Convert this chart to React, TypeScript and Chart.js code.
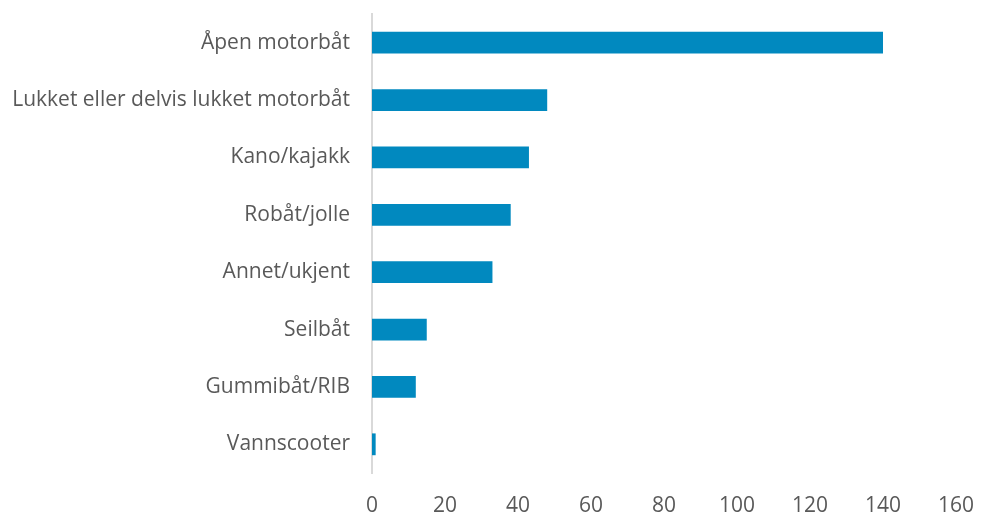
import React, { useEffect, useRef } from "react";
import { Chart, registerables } from "chart.js";

Chart.register(...registerables);

const categories = [
  "Åpen motorbåt",
  "Lukket eller delvis lukket motorbåt",
  "Kano/kajakk",
  "Robåt/jolle",
  "Annet/ukjent",
  "Seilbåt",
  "Gummibåt/RIB",
  "Vannscooter",
];
const values = [140, 48, 43, 38, 33, 15, 12, 1];
const xTicks = [0, 20, 40, 60, 80, 100, 120, 140, 160];

export default function App() {
  const ref = useRef<HTMLCanvasElement>(null);
  useEffect(() => {
    if (!ref.current) return;
    const chart = new Chart(ref.current, {
      type: "bar",
      data: {
        labels: categories,
        datasets: [
          {
            data: values,
            backgroundColor: "#0189BF",
            borderWidth: 0,
            barPercentage: 0.76,
            categoryPercentage: 0.5,
          },
        ],
      },
      options: {
        indexAxis: "y",
        animation: false,
        responsive: false,
        maintainAspectRatio: false,
        layout: { padding: { top: 14, right: 26, left: 0, bottom: 0 } },
        plugins: { legend: { display: false }, tooltip: { enabled: false } },
        scales: {
          x: {
            min: 0,
            max: 160,
            afterBuildTicks: (s: any) => {
              s.ticks = xTicks.map((v) => ({ value: v }));
            },
            afterFit: (s: any) => {
              s.height = 42;
              s.paddingLeft = 0;
              s.paddingRight = 0;
            },
            grid: { display: false, drawTicks: false },
            border: { display: false },
            ticks: {
              color: "#595959",
              font: { family: "Open Sans", size: 21 },
              padding: 20,
            },
          },
          y: {
            afterFit: (s: any) => {
              s.width = 372;
              s.paddingTop = 0;
              s.paddingBottom = 0;
            },
            grid: { display: false, drawTicks: false },
            border: { display: true, color: "#D9D9D9", width: 2 },
            ticks: {
              color: "#595959",
              font: { family: "Open Sans", size: 21 },
              padding: 22,
            },
          },
        },
      },
    });
    return () => chart.destroy();
  }, []);
  return (
    <div style={{ position: "absolute", left: 0, top: 0, width: 982, height: 515, background: "#fff" }}>
      <canvas ref={ref} width={982} height={515} style={{ width: 982, height: 515 }} />
    </div>
  );
}
